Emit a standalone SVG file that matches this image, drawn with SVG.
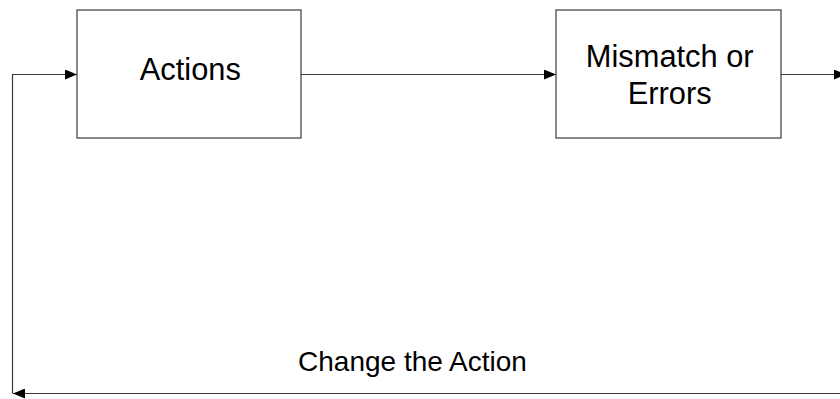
<svg xmlns="http://www.w3.org/2000/svg" width="840" height="399" viewBox="0 0 840 399">
  <style>
    .box { fill: #ffffff; stroke: #3a3a3a; stroke-width: 1.2; }
    .lbl { font-family: "Liberation Sans", Arial, sans-serif; font-size: 30.8px; fill: #000000; text-anchor: middle; }
    .edge { fill: none; stroke: #3a3a3a; stroke-width: 1.2; }
    .note { font-family: "Liberation Sans", Arial, sans-serif; font-size: 28px; fill: #000000; text-anchor: middle; }
  </style>
  <defs>
    <marker id="arrow" viewBox="0 0 12 10" refX="12" refY="5" markerWidth="12" markerHeight="10" markerUnits="userSpaceOnUse" orient="auto">
      <path d="M0,0 L12,5 L0,10 Z" fill="#000000"/>
    </marker>
  </defs>
  <rect width="840" height="399" fill="#ffffff"/>

  <g id="connectors">
    <!-- Actions -> Mismatch or Errors -->
    <path class="edge" d="M301,74.5 H556" marker-end="url(#arrow)"/>
    <!-- Mismatch or Errors -> out -->
    <path class="edge" d="M781,74.5 H846" marker-end="url(#arrow)"/>
    <!-- feedback return along the bottom -->
    <path class="edge" d="M840,393.5 H13" marker-end="url(#arrow)"/>
    <!-- feedback up the left side into Actions -->
    <path class="edge" d="M12.5,393.5 V74.5 H77" marker-end="url(#arrow)"/>
  </g>

  <g id="actions">
    <rect class="box" x="77" y="10" width="224" height="128"/>
    <text class="lbl" x="190.3" y="79.5">Actions</text>
  </g>

  <g id="mismatch">
    <rect class="box" x="556" y="10" width="225" height="128"/>
    <text class="lbl" x="669.7" y="66.7">Mismatch or</text>
    <text class="lbl" x="669.7" y="104">Errors</text>
  </g>

  <g id="feedback-label">
    <text class="note" x="412.5" y="371">Change the Action</text>
  </g>
</svg>
